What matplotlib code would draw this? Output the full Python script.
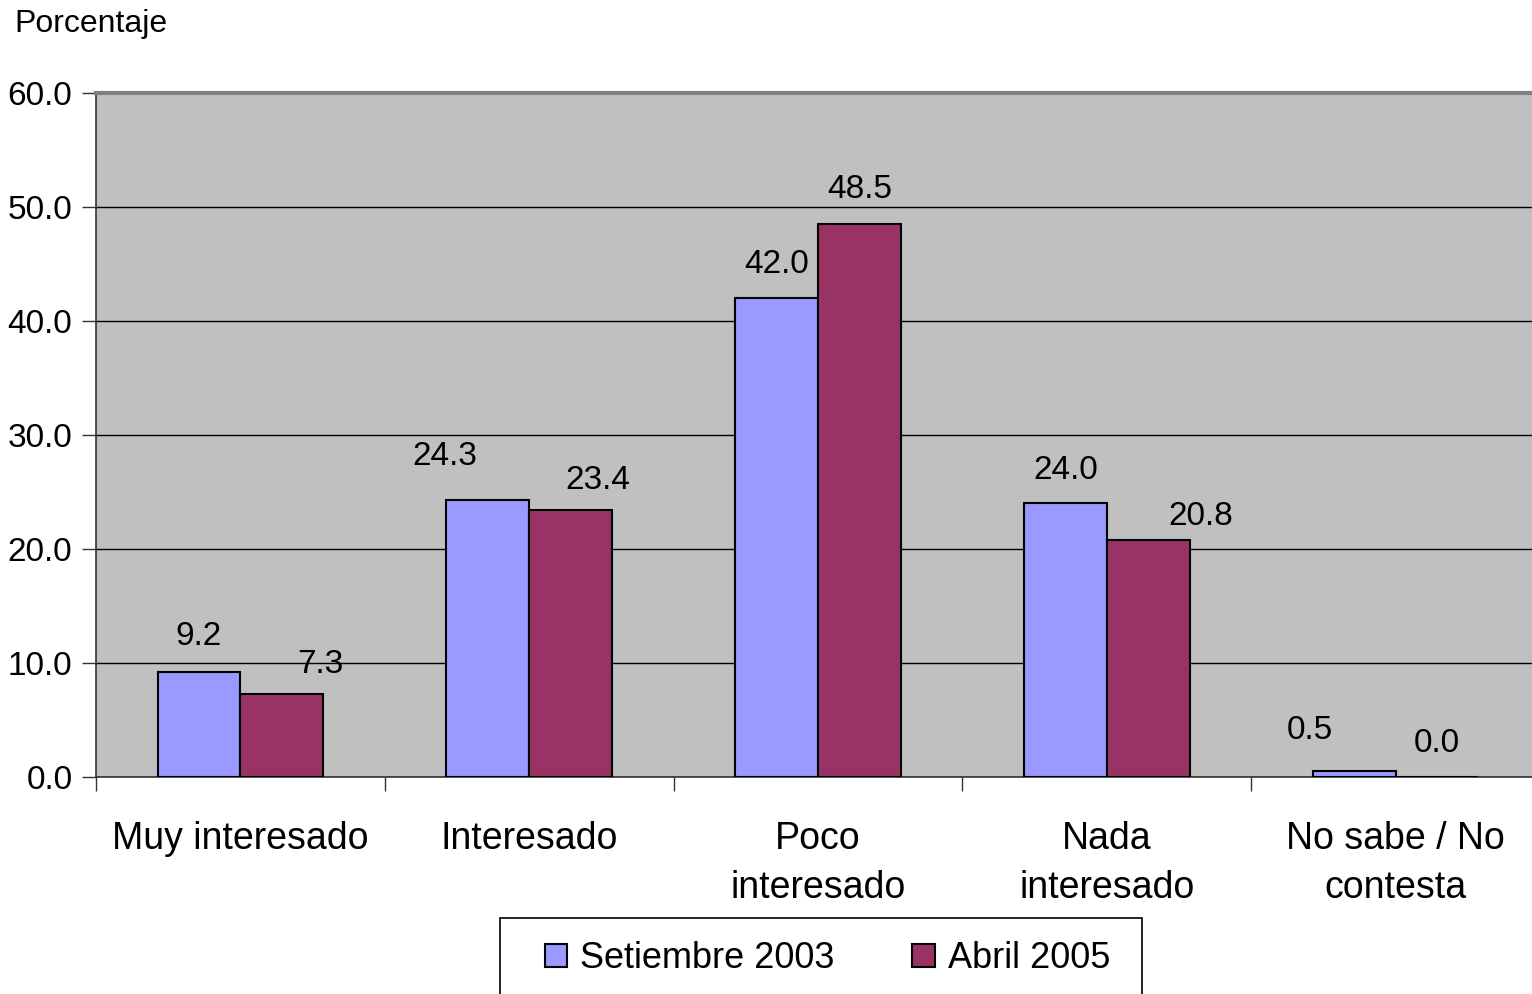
import matplotlib
matplotlib.use("Agg")
import matplotlib.pyplot as plt
import numpy as np
from matplotlib.patches import Rectangle

plt.rcParams['font.family'] = ['Liberation Sans', 'DejaVu Sans']

categories = ["Muy interesado", "Interesado", "Poco\ninteresado", "Nada\ninteresado", "No sabe / No\ncontesta"]
series_names = ["Setiembre 2003", "Abril 2005"]
sep2003 = [9.2, 24.3, 42.0, 24.0, 0.5]
abr2005 = [7.3, 23.4, 48.5, 20.8, 0.0]
yticks = [0, 10, 20, 30, 40, 50, 60]

# label offsets (pixels) relative to bar top centre, as placed in the reference
off_sep = [(0, 36), (-43, 43), (0, 34), (0, 33), (-44, 41)]
off_abr = [(39, 29), (27, 30), (0, 35), (53, 23), (0, 34)]

colors = ["#9999FF", "#993366"]

W, H = 1532, 994
fig = plt.figure(figsize=(W/100, H/100), dpi=100)
ax_left, ax_right, ax_top, ax_bot = 96, 96 + 5*288.8, 93, 777
ax = fig.add_axes([ax_left/W, 1-ax_bot/H, (ax_right-ax_left)/W, (ax_bot-ax_top)/H])
ax.set_facecolor("#C0C0C0")

x = np.arange(len(categories))
w = 0.287
b1 = ax.bar(x - w/2, sep2003, w, color=colors[0], edgecolor="black", linewidth=1.5, zorder=3, label=series_names[0])
b2 = ax.bar(x + w/2, abr2005, w, color=colors[1], edgecolor="black", linewidth=1.5, zorder=3, label=series_names[1])

for bars, vals, offs in ((b1, sep2003, off_sep), (b2, abr2005, off_abr)):
    for bar, v, (dx, dy) in zip(bars, vals, offs):
        ax.annotate(f"{v:.1f}", (bar.get_x() + bar.get_width()/2, v),
                    xytext=(dx, dy), textcoords="offset pixels",
                    ha="center", va="center", fontsize=24, zorder=5)

ax.set_xlim(-0.5, len(categories) - 0.5)
ax.set_ylim(0, 60)
ax.set_yticks(yticks)
ax.set_yticklabels([f"{t:.1f}" for t in yticks], fontsize=24)
ax.yaxis.grid(True, color="black", linewidth=1.0, zorder=0)
ax.set_axisbelow(True)

ax.set_xticks(np.arange(-0.5, len(categories)), minor=False)
ax.set_xticklabels([])
ax.set_xticks(x, minor=True)
ax.set_xticklabels(categories, minor=True, fontsize=27, linespacing=1.45)
ax.tick_params(axis="x", which="major", direction="out", length=10, width=1, color="#333333")
ax.tick_params(axis="x", which="minor", length=0, pad=32)
ax.tick_params(axis="y", direction="out", length=10, width=1, color="#333333", pad=7)

for s in ("left", "bottom"):
    ax.spines[s].set_color("#333333")
    ax.spines[s].set_linewidth(1.2)
ax.spines["top"].set_color("#808080")
ax.spines["top"].set_linewidth(3)
ax.spines["right"].set_visible(False)

fig.text(14/W, 1-24/H, "Porcentaje", fontsize=23, ha="left", va="center")

# legend box
fig.patches.append(Rectangle((500/W, -0.05), (1142-500)/W, 0.05 + 1-918/H,
                             transform=fig.transFigure, facecolor="white",
                             edgecolor="black", linewidth=1.2, zorder=1))
leg = fig.legend(handles=[b1, b2], labels=series_names, loc="center left",
                 bbox_to_anchor=(545/W, 1-959/H), ncol=2, fontsize=26,
                 frameon=False, handlelength=0.62, handleheight=0.62,
                 handletextpad=0.36, columnspacing=2.15, borderpad=0, borderaxespad=0)
leg.set_zorder(2)

fig.savefig("out.png", dpi=100)
